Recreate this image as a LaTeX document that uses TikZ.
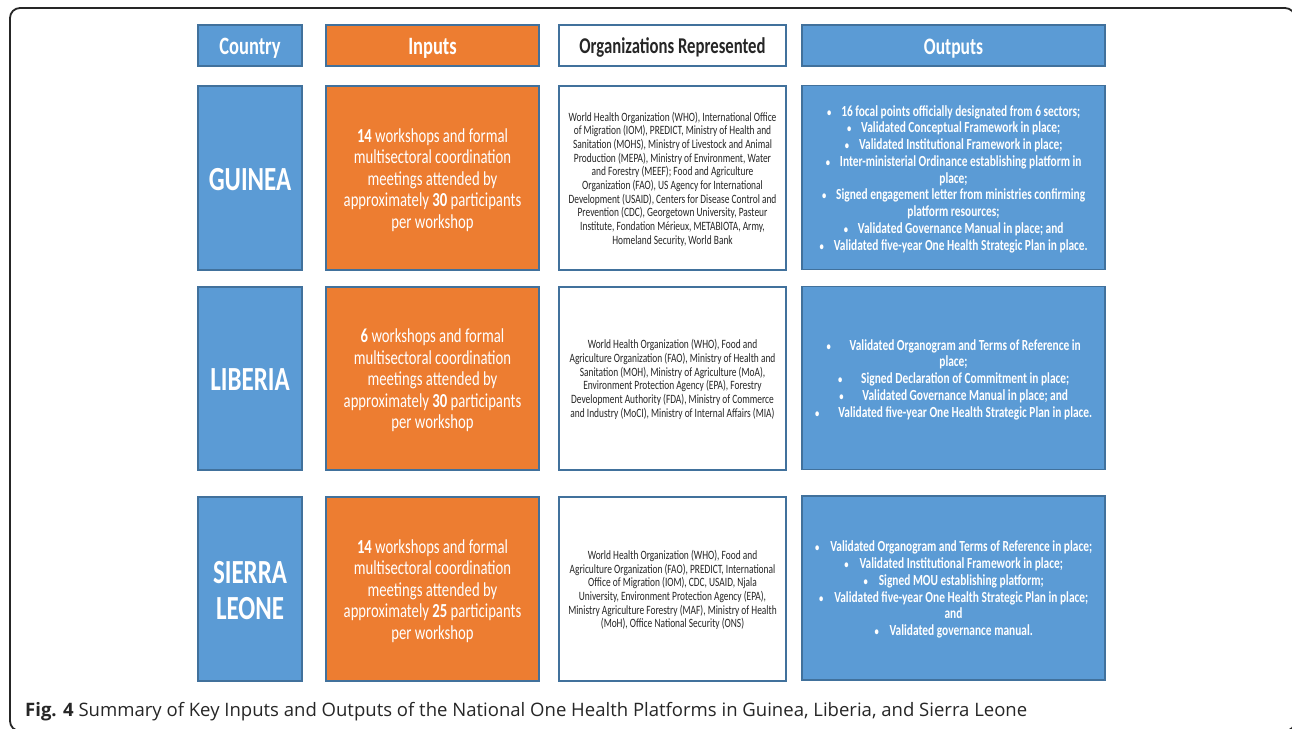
\documentclass[tikz,border=0pt]{standalone}
\usepackage{fontspec}
\usepackage{graphicx}
\setmainfont{Carlito}
\newfontfamily\capfont{Open Sans}
\definecolor{obl}{HTML}{5B9BD5}
\definecolor{obd}{HTML}{41719C}
\definecolor{oor}{HTML}{ED7D31}
\newcommand\vk{1.35}
\newcommand\blk[3]{\raisebox{-0.2\dimexpr #1pt\relax}[\height][\depth]{\scalebox{1}[\vk]{\fontsize{#1}{#2}\selectfont\begin{tabular}{@{}c@{}}#3\end{tabular}}}}
\newcommand\bu[1]{\makebox[5pt]{\scalebox{0.75}{\textbullet}}\hspace{#1pt}}
\tikzset{
  cell/.style={draw=obd, line width=1.3pt, inner sep=0pt},
  bluecell/.style={cell, fill=obl, text=white, font=\bfseries},
  orangecell/.style={cell, fill=oor, text=white},
  whitecell/.style={cell, fill=white, text=black!85},
  colA/.style={minimum width=104pt},
  colB/.style={minimum width=213pt},
  colC/.style={minimum width=227pt},
  colD/.style={minimum width=303pt},
  rowH/.style={minimum height=41pt},
  rowR/.style={minimum height=184pt},
}
\begin{document}
\begin{tikzpicture}[x=1pt,y=-1pt]
\useasboundingbox (0,0) rectangle (1292,728);
\clip (0,0) rectangle (1292,728);
\draw[line width=1.8pt, rounded corners=10pt, black!85] (10,8) rectangle (1295,731);

% header row
\node[bluecell, colA, rowH] (hcountry) at (250,45.5) {\blk{18.5}{20}{Country}};
\node[orangecell, colB, rowH, font=\bfseries] (hinputs) at (432.5,45.5) {\blk{18.5}{20}{Inputs}};
\node[whitecell, colC, rowH, font=\bfseries] (horgs) at (672.5,45.5) {\blk{16.7}{18}{Organizations Represented}};
\node[bluecell, colD, rowH] (houts) at (953.5,45.5) {\blk{17.5}{20}{Outputs}};

% Guinea
\node[bluecell, colA, rowR] (gcountry) at (250,178) {\blk{25}{26.7}{GUINEA}};
\node[orangecell, colB, rowR] (ginputs) at (432.5,178) {\blk{14.7}{15.9}{%
\textbf{14} workshops and formal\\ multisectoral coordination\\ meetings attended by\\ approximately \textbf{30} participants\\ per workshop}};
\node[whitecell, colC, rowR] (gorgs) at (672.5,178) {\blk{9.4}{10.12}{%
World Health Organization (WHO), International Office\\
of Migration (IOM), PREDICT, Ministry of Health and\\
Sanitation (MOHS), Ministry of Livestock and Animal\\
Production (MEPA), Ministry of Environment, Water\\
and Forestry (MEEF); Food and Agriculture\\
Organization (FAO), US Agency for International\\
Development (USAID), Centers for Disease Control and\\
Prevention (CDC), Georgetown University, Pasteur\\
Institute, Fondation Mérieux, METABIOTA, Army,\\
Homeland Security, World Bank}};
\node[bluecell, colD, rowR] (gouts) at (953.5,177.5) {\blk{11.4}{12.4}{%
\bu{9.5}16 focal points officially designated from 6 sectors;\\
\bu{9.5}Validated Conceptual Framework in place;\\
\bu{9.5}Validated Institutional Framework in place;\\
\bu{9.5}Inter-ministerial Ordinance establishing platform in\\
place;\\
\bu{9.5}Signed engagement letter from ministries confirming\\
platform resources;\\
\bu{9.5}Validated Governance Manual in place; and\\
\bu{9.5}Validated five-year One Health Strategic Plan in place.}};

% Liberia
\node[bluecell, colA, rowR, minimum height=183pt] (lcountry) at (250,378.5) {\blk{25}{26.7}{LIBERIA}};
\node[orangecell, colB, rowR, minimum height=183pt] (linputs) at (432.5,378.5) {\blk{14.7}{15.9}{%
\textbf{6} workshops and formal\\ multisectoral coordination\\ meetings attended by\\ approximately \textbf{30} participants\\ per workshop}};
\node[whitecell, colC, rowR, minimum height=183pt] (lorgs) at (672.5,378.5) {\blk{9.4}{10.12}{%
World Health Organization (WHO), Food and\\
Agriculture Organization (FAO), Ministry of Health and\\
Sanitation (MOH), Ministry of Agriculture (MoA),\\
Environment Protection Agency (EPA), Forestry\\
Development Authority (FDA), Ministry of Commerce\\
and Industry (MoCI), Ministry of Internal Affairs (MIA)}};
\node[bluecell, colD, rowR, minimum height=183pt] (louts) at (953.5,378) {\blk{11.4}{12.4}{%
\bu{18.5}Validated Organogram and Terms of Reference in\\
place;\\
\bu{18.5}Signed Declaration of Commitment in place;\\
\bu{18.5}Validated Governance Manual in place; and\\
\bu{18.5}Validated five-year One Health Strategic Plan in place.}};

% Sierra Leone
\node[bluecell, colA, rowR] (scountry) at (250,589) {\blk{25}{26.7}{SIERRA\\LEONE}};
\node[orangecell, colB, rowR] (sinputs) at (432.5,589) {\blk{14.7}{15.9}{%
\textbf{14} workshops and formal\\ multisectoral coordination\\ meetings attended by\\ approximately \textbf{25} participants\\ per workshop}};
\node[whitecell, colC, rowR] (sorgs) at (672.5,589) {\blk{9.4}{10.12}{%
World Health Organization (WHO), Food and\\
Agriculture Organization (FAO), PREDICT, International\\
Office of Migration (IOM), CDC, USAID, Njala\\
University, Environment Protection Agency (EPA),\\
Ministry Agriculture Forestry (MAF), Ministry of Health\\
(MoH), Office National Security (ONS)}};
\node[bluecell, colD, rowR] (souts) at (953.5,588) {\blk{11.4}{12.4}{%
\bu{10.5}Validated Organogram and Terms of Reference in place;\\
\bu{10.5}Validated Institutional Framework in place;\\
\bu{10.5}Signed MOU establishing platform;\\
\bu{10.5}Validated five-year One Health Strategic Plan in place;\\
and\\
\bu{10.5}Validated governance manual.}};

% caption
\node[anchor=base west, inner sep=0pt, text=black!85] (caption) at (25,716) {\resizebox{1002pt}{!}{\capfont\fontsize{19}{22}\selectfont\textbf{Fig. 4} Summary of Key Inputs and Outputs of the National One Health Platforms in Guinea, Liberia, and Sierra Leone}};
\end{tikzpicture}
\end{document}
